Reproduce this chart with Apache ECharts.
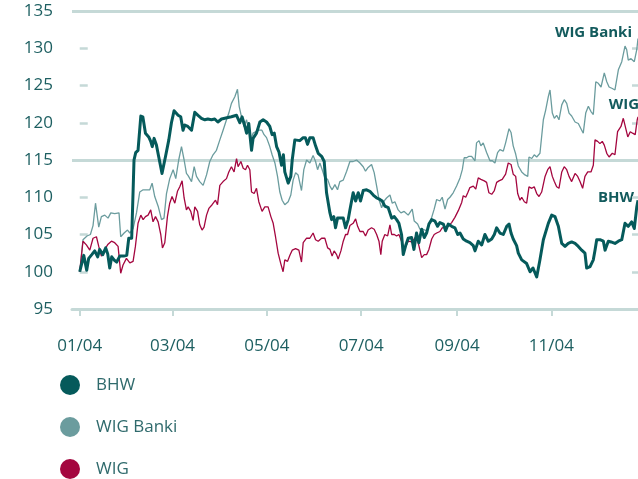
<!DOCTYPE html>
<html>
<head>
<meta charset="utf-8">
<script src="https://cdn.jsdelivr.net/npm/echarts@6/dist/echarts.min.js"></script>
<style>
html,body{margin:0;padding:0;background:#fff}
#main{width:638px;height:479px}
</style>
</head>
<body>
<div id="main"></div>
<script>
// day of 2004 (0 = 1 Jan) and index value (start = 100)
var bhw = [[0,100],[2.6,102.2],[4.5,100.2],[5.8,101.8],[7.8,102.3],[9.7,102.8],[11.6,102.0],[12.9,103.0],[14.9,102.3],[16.8,103.2],
  [18.1,102.4],[19.4,100.5],[20.7,102.0],[22.6,101.5],[23.9,101.3],[25.9,102.1],[28.5,102.1],[30.4,102.2],[31.7,104.5],[33.6,104.5],
  [35.1,115.0],[36.2,116.0],[37.7,116.3],[39.5,120.9],[40.8,120.8],[42.5,118.6],[44.6,118.1],[45.9,117.5],[46.9,116.8],[48.1,117.9],
  [49.6,117.0],[51.1,115.4],[53.2,113.2],[55.4,115.4],[57.6,117.7],[59.3,120.0],[61.0,121.6],[63.6,121.0],[65.3,120.8],[66.8,119.0],
  [67.9,119.7],[69.9,119.5],[72.3,119.0],[74.4,121.4],[76.5,121.0],[78.7,120.6],[80.9,120.4],[82.8,120.5],[85.2,120.4],[87.3,120.5],
  [89.3,120.1],[91.7,120.5],[93.8,120.6],[95.8,120.7],[98.1,120.8],[101.4,121.0],[103.5,120.0],[105.0,120.8],[106.8,119.5],[107.9,118.6],
  [109.3,119.9],[111.1,116.3],[112.1,117.9],[114.3,118.6],[116.5,120.1],[118.6,120.4],[120.8,120.1],[122.9,119.5],[124.4,118.4],[125.8,118.6],
  [127.3,116.8],[128.8,116.1],[130.5,114.3],[131.7,115.7],[132.6,113.4],[134.8,111.9],[136.5,112.8],[137.4,115.0],[139.1,117.7],[142.3,117.6],
  [144.5,118.0],[145.9,118.0],[147.3,117.1],[148.8,118.0],[150.9,118.0],[152.5,116.9],[154.2,115.9],[156.4,115.5],[158.1,114.8],[159.6,110.6],
  [161.8,107.9],[162.9,107.0],[164.3,107.4],[165.4,105.9],[166.7,107.2],[168.2,107.2],[170.4,107.2],[171.9,105.9],[173.6,107.0],[174.7,108.3],
  [176.8,110.6],[178.4,109.5],[180.1,110.6],[181.6,109.5],[183.3,110.9],[185.5,111.0],[187.6,110.8],[189.8,110.3],[192.0,109.9],[194.1,109.7],
  [195.6,109.5],[197.3,108.8],[199.5,108.6],[201.7,107.2],[203.4,107.4],[204.9,107.0],[206.4,106.5],[208.1,105.0],[209.2,102.3],[210.9,103.6],
  [212.4,104.5],[214.6,104.6],[216.1,103.0],[217.8,105.2],[219.3,103.9],[221.1,105.7],[222.8,104.6],[224.3,105.2],[225.8,106.4],[227.6,107.0],
  [229.7,106.8],[231.4,106.1],[232.9,106.6],[235.1,106.4],[236.6,105.5],[238.3,106.4],[240.5,106.1],[242.6,105.9],[244.4,105.0],[245.9,105.2],
  [248.0,104.4],[250.2,104.1],[252.3,103.9],[254.5,103.5],[255.6,102.8],[257.7,104.1],[259.9,103.6],[262.0,105.0],[264.2,104.1],[266.4,104.4],
  [268.1,105.0],[269.6,105.9],[271.7,105.2],[273.9,105.0],[276.1,106.1],[277.6,106.4],[278.9,105.2],[280.3,104.4],[282.5,103.5],[283.6,102.5],
  [285.8,101.6],[289.0,101.1],[291.2,100.0],[293.1,100.5],[295.5,99.3],[296.5,99.1],[297.6,101.6],[299.8,104.3],[303.0,106.5],[305.2,107.6],
  [307.3,107.4],[309.5,106.1],[311.7,103.8],[313.8,103.4],[315.9,103.8],[318.1,104.0],[320.3,103.8],[322.4,103.4],[324.6,102.9],[326.7,102.5],
  [327.8,100.5],[330.0,100.7],[332.1,101.6],[333.2,102.9],[334.3,104.3],[336.4,104.3],[338.6,104.1],[339.7,102.9],[341.8,104.1],[343.6,104.0],
  [346.1,103.8],[348.3,104.1],[350.5,104.3],[352.6,106.5],[354.7,106.1],[356.9,106.7],[358.6,105.8],[360.2,108.7],[361.0,109.6]];

var wigBanki = [[0,100],[2.1,104.3],[4.7,104.8],[6.9,105.0],[8.6,106.2],[10.2,109.2],[12.3,106.0],[14.0,107.4],[16.2,107.6],[18.3,107.2],
  [20.1,107.9],[22.6,107.8],[25.4,107.9],[26.5,104.7],[28.7,105.2],[30.9,105.6],[32.4,105.2],[34.5,105.8],[36.7,107.9],[38.8,110.7],
  [41.0,111.0],[43.2,111.0],[45.3,111.0],[46.8,111.9],[48.5,110.1],[50.7,108.8],[52.9,107.0],[54.5,107.2],[56.1,110.5],[58.2,112.5],
  [60.4,113.7],[62.1,112.5],[64.0,115.0],[65.8,116.8],[67.5,115.0],[69.0,113.2],[70.1,112.9],[72.3,112.1],[74.0,114.1],[75.5,112.8],
  [77.6,112.1],[79.8,111.6],[82.0,113.0],[84.1,114.8],[86.2,115.7],[88.4,116.3],[90.6,117.7],[92.7,119.0],[94.9,120.4],[96.4,121.3],
  [98.1,122.6],[100.3,123.5],[102.0,124.5],[103.1,122.2],[104.6,120.8],[106.3,119.5],[107.9,120.4],[108.9,119.3],[110.6,117.7],[112.1,118.6],
  [113.7,118.8],[115.8,119.0],[117.8,119.0],[119.2,118.4],[120.8,118.0],[122.9,116.8],[124.4,115.7],[126.2,114.6],[127.9,112.8],[129.4,110.7],
  [130.9,109.6],[132.6,109.0],[134.8,109.4],[136.5,110.3],[138.0,112.3],[139.6,113.3],[141.2,113.0],[143.4,110.9],[144.9,113.7],[146.7,115.0],
  [148.8,114.6],[150.9,115.6],[152.5,114.8],[153.8,113.7],[155.3,114.6],[156.8,113.7],[158.5,112.6],[160.3,112.4],[161.8,111.5],[163.2,111.0],
  [165.0,111.7],[166.7,111.0],[168.2,112.1],[170.4,112.3],[172.6,113.5],[174.7,114.8],[176.8,114.8],[179.0,115.0],[181.2,114.6],[183.3,114.1],
  [184.8,113.5],[186.5,114.0],[188.7,114.4],[190.4,113.3],[192.0,111.5],[193.5,109.7],[195.2,108.6],[196.9,109.5],[198.4,109.9],[200.6,110.3],
  [202.1,109.2],[203.8,109.4],[205.9,108.3],[207.7,107.9],[209.8,108.1],[212.4,107.6],[215.0,108.4],[216.3,106.8],[218.5,106.4],[220.0,105.7],
  [222.1,105.7],[224.3,105.5],[225.8,106.2],[227.6,107.3],[229.2,108.4],[230.8,109.7],[232.9,109.5],[234.4,110.0],[236.2,108.4],[237.9,109.7],
  [239.4,110.0],[241.5,110.6],[243.7,111.5],[245.9,112.6],[247.4,113.7],[248.6,115.3],[250.2,115.3],[251.7,115.5],[253.4,115.5],[255.6,114.9],
  [256.6,117.3],[258.2,117.6],[259.4,116.9],[260.9,117.3],[263.1,116.0],[265.3,114.9],[266.8,114.9],[268.5,114.6],[270.2,116.0],[271.7,116.4],
  [273.9,116.2],[275.4,117.3],[277.6,119.2],[278.9,118.7],[280.3,116.9],[281.9,115.8],[283.6,114.2],[285.8,113.4],[287.9,113.0],[289.7,112.8],
  [290.5,115.4],[292.3,115.2],[293.9,115.7],[295.5,115.4],[297.6,115.9],[299.8,120.4],[301.3,121.7],[303.0,123.5],[304.1,124.4],[305.6,121.3],
  [306.9,120.6],[308.4,121.0],[309.9,120.4],[311.7,122.4],[313.3,123.1],[314.9,122.6],[316.4,121.3],[318.1,120.9],[320.3,120.1],[322.4,119.9],
  [324.6,119.0],[325.6,118.6],[327.2,121.3],[328.9,122.2],[330.6,121.5],[332.1,121.1],[333.7,125.5],[335.3,125.3],[337.1,124.8],[339.2,126.7],
  [340.8,125.5],[342.3,124.8],[344.4,124.6],[346.1,124.4],[348.3,127.1],[350.5,128.2],[352.6,130.3],[353.7,129.8],[354.7,128.4],[356.5,128.6],
  [358.6,128.2],[360.2,129.8],[361.0,131.3]];

var wig = [[0,100],[2.1,104.1],[4.3,103.6],[6.5,102.9],[8.6,104.5],[10.8,104.7],[12.3,103.4],[14.0,102.1],[16.2,103.0],[18.3,103.7],
  [20.5,104.1],[22.6,103.9],[24.8,103.4],[26.5,99.8],[28.0,100.9],[30.2,101.8],[32.4,101.2],[34.5,101.4],[36.0,103.4],[37.7,106.5],
  [39.5,107.6],[41.0,107.0],[42.5,107.4],[44.2,107.6],[45.9,108.3],[47.4,106.7],[49.0,107.4],[50.7,106.7],[52.4,105.0],[53.5,103.2],
  [55.0,103.9],[56.7,107.4],[58.2,109.2],[59.7,110.1],[61.5,109.2],[63.2,110.8],[64.7,111.4],[66.2,112.2],[67.5,109.9],[69.0,108.3],
  [70.1,108.7],[71.8,108.1],[73.3,106.9],[74.4,108.7],[76.2,108.1],[77.6,106.3],[79.1,105.6],[80.4,106.0],[82.0,107.6],[83.5,108.5],
  [85.6,109.0],[87.8,109.6],[89.1,109.0],[90.6,111.6],[92.7,112.1],[94.9,112.5],[96.4,113.4],[98.1,114.1],[99.8,113.4],[101.4,115.2],
  [102.4,114.1],[104.2,114.8],[105.7,113.9],[107.2,113.7],[108.5,114.3],[110.0,113.7],[111.1,110.7],[112.8,110.5],[114.3,111.2],[115.8,109.4],
  [117.9,108.1],[119.7,108.7],[121.8,108.7],[123.6,107.4],[125.1,106.5],[126.6,104.7],[128.3,102.5],[130.0,101.1],[131.5,100.0],[132.6,101.6],
  [134.4,101.4],[135.9,102.2],[137.4,102.9],[139.6,103.1],[141.7,102.9],[143.4,101.3],[144.5,103.9],[146.7,104.5],[148.8,104.5],[150.9,105.2],
  [152.5,104.3],[154.2,104.1],[156.4,104.5],[158.5,104.5],[160.3,103.2],[161.8,103.0],[163.2,102.1],[164.5,102.8],[166.1,102.3],[167.1,101.7],
  [168.9,102.8],[170.4,104.1],[171.9,105.0],[173.2,105.0],[174.7,106.2],[176.8,106.5],[178.4,107.1],[179.7,106.1],[181.2,105.4],[183.3,105.4],
  [184.8,104.8],[186.5,105.6],[188.7,105.9],[190.4,105.7],[192.0,105.0],[193.5,104.1],[194.7,102.3],[195.6,104.1],[197.3,105.0],[199.1,104.8],
  [200.6,106.3],[201.7,105.0],[203.4,105.0],[204.9,104.8],[206.4,105.0],[208.1,104.1],[209.8,103.0],[212.4,104.1],[214.6,104.0],[216.3,104.4],
  [217.8,104.8],[219.3,103.5],[221.1,101.9],[222.8,102.3],[224.3,102.3],[225.8,103.0],[227.6,104.4],[229.2,105.0],[230.8,105.2],[232.9,105.4],
  [234.4,105.9],[236.6,106.0],[238.3,106.1],[240.5,106.6],[242.6,107.3],[244.8,108.2],[247.0,109.3],[248.0,110.2],[249.6,110.0],[250.9,110.6],
  [252.3,111.3],[254.5,111.5],[256.1,111.1],[257.7,112.6],[259.4,112.4],[261.6,112.2],[263.1,112.0],[264.6,110.6],[266.4,110.4],[268.1,110.9],
  [269.6,112.0],[271.1,112.2],[273.2,112.4],[275.4,113.1],[277.1,114.6],[278.9,114.4],[280.3,113.1],[281.9,112.8],[283.2,110.5],[284.7,109.6],
  [285.8,110.0],[287.5,109.4],[289.0,109.2],[290.5,111.4],[292.3,111.2],[293.9,111.4],[295.5,110.5],[297.0,110.1],[298.7,110.7],[300.9,112.8],
  [302.6,113.7],[304.1,114.1],[305.6,112.8],[306.9,112.1],[308.4,111.4],[309.9,111.2],[311.7,113.4],[313.3,114.1],[314.9,113.7],[316.4,112.8],
  [318.1,112.1],[320.3,113.2],[322.0,112.8],[323.5,112.1],[325.2,111.2],[326.7,112.8],[328.5,113.4],[330.6,113.4],[332.1,114.3],[333.2,117.7],
  [334.9,117.5],[336.4,117.2],[337.9,117.5],[339.2,117.0],[340.8,115.9],[342.3,115.4],[344.4,115.9],[346.1,115.7],[347.8,118.8],[350.0,119.5],
  [351.5,120.6],[352.6,120.4],[354.4,118.1],[356.0,118.8],[357.5,118.6],[359.2,118.4],[360.5,120.4],[361.0,120.8]];

// x tick positions (first day of every second month) and their labels
var monthDays = [0, 60, 121, 182, 244, 305];
var monthLabels = ['01/04', '03/04', '05/04', '07/04', '09/04', '11/04'];

var seriesNames = ['BHW', 'WIG Banki', 'WIG'];

var textColor = '#1d5f61';
var gridColor = '#c5d9d7';
var font = '"Open Sans", sans-serif';

var myChart = echarts.init(document.getElementById('main'), null, {renderer: 'canvas'});

myChart.setOption({
  animation: false,
  grid: {left: 72, right: 0, top: 11, bottom: 170, containLabel: false},
  legend: {
    data: seriesNames,
    orient: 'vertical',
    left: 60,
    top: 375,
    padding: 0,
    icon: 'circle',
    itemWidth: 42,
    itemHeight: 20,
    itemGap: 22,
    textStyle: {fontSize: 17, color: '#2f6a6c', fontFamily: font}
  },
  xAxis: {
    type: 'value',
    min: -5,
    max: 361,
    splitLine: {show: false},
    axisLine: {show: true, lineStyle: {color: gridColor, width: 3}},
    axisTick: {show: true, customValues: monthDays, length: 7, lineStyle: {color: gridColor, width: 2}},
    axisLabel: {
      customValues: monthDays,
      margin: 29,
      fontSize: 17,
      color: textColor,
      fontFamily: font,
      formatter: function (v) {
        return monthLabels[monthDays.indexOf(v)];
      }
    }
  },
  yAxis: [{
    type: 'value',
    min: 95,
    max: 135,
    interval: 5,
    axisLine: {show: false},
    axisTick: {show: true, inside: true, length: 8, lineStyle: {color: gridColor, width: 2.5}},
    axisLabel: {margin: 19, fontSize: 17, color: textColor, fontFamily: font, padding: [6, 0, 0, 0]},
    // only 95, 115 and 135 get a full line
    splitLine: {show: true, lineStyle: {color: [gridColor, 'transparent', 'transparent', 'transparent'], width: 3}}
  }, {
    type: 'value',
    position: 'right',
    min: 95,
    max: 135,
    interval: 5,
    axisLine: {show: false},
    axisTick: {show: true, inside: true, length: 6, lineStyle: {color: gridColor, width: 2.5}},
    axisLabel: {show: false},
    splitLine: {show: false}
  }],
  graphic: [
    {type: 'text', x: 632, y: 33, style: {text: 'WIG Banki', align: 'right', verticalAlign: 'middle', font: 'bold 15px "Open Sans"', fill: '#135b5d'}},
    {type: 'text', x: 639, y: 105, style: {text: 'WIG', align: 'right', verticalAlign: 'middle', font: 'bold 15px "Open Sans"', fill: '#135b5d'}},
    {type: 'text', x: 634, y: 198, style: {text: 'BHW', align: 'right', verticalAlign: 'middle', font: 'bold 15px "Open Sans"', fill: '#135b5d'}}
  ],
  series: [{
    name: 'WIG Banki',
    type: 'line',
    data: wigBanki,
    showSymbol: false,
    symbol: 'none',
    color: '#6b9c9e',
    lineStyle: {width: 1.3, color: '#6b9c9e'},
    z: 2
  }, {
    name: 'WIG',
    type: 'line',
    data: wig,
    showSymbol: false,
    symbol: 'none',
    color: '#a4063f',
    lineStyle: {width: 1.3, color: '#a4063f'},
    z: 3
  }, {
    name: 'BHW',
    type: 'line',
    data: bhw,
    showSymbol: false,
    symbol: 'none',
    color: '#055a5b',
    lineStyle: {width: 3, color: '#055a5b', join: 'round'},
    z: 4
  }]
});
</script>
</body>
</html>
